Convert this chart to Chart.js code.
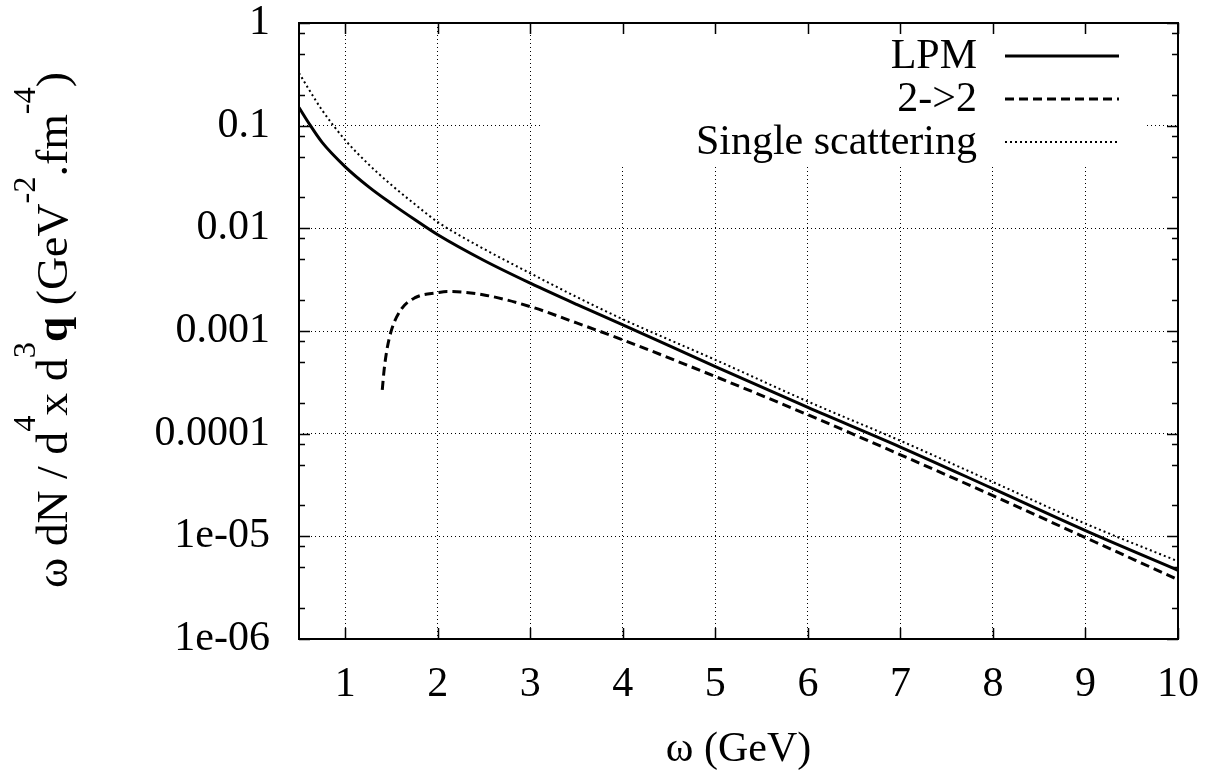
<!DOCTYPE html>
<html>
<head>
<meta charset="utf-8">
<script src="https://cdn.jsdelivr.net/npm/chart.js@4/dist/chart.umd.min.js"></script>
<style>
  html, body { margin: 0; padding: 0; background: #fff; }
</style>
</head>
<body>
<canvas id="chart" width="1211" height="772"></canvas>
<script>
// values (omega in GeV, rate on log scale)
const lpmOmega = [0.5, 0.6, 0.75, 1, 1.25, 1.5, 1.75, 2, 2.5, 3, 3.5, 4, 5, 6, 7, 8, 9, 10];
const lpmRate = [0.1503, 0.1079, 0.0687, 0.03974, 0.0255, 0.01740, 0.01218, 0.00866, 0.00486, 0.00292,
  0.001815, 0.001147, 4.50e-4, 1.80e-4, 7.41e-5, 2.91e-5, 1.136e-5, 4.67e-6];

const twoTwoOmega = [1.40, 1.42, 1.45, 1.5, 1.6, 1.75, 2, 2.1, 2.5, 3, 3.5, 4, 5, 6, 7, 8, 9, 10];
const twoTwoRate = [2.67e-4, 4.18e-4, 6.55e-4, 1.025e-3, 1.604e-3, 2.10e-3, 2.363e-3, 2.427e-3,
  2.245e-3, 1.727e-3, 1.199e-3, 8.19e-4, 3.60e-4, 1.527e-4, 6.23e-5, 2.49e-5, 9.71e-6, 3.79e-6];

const singleOmega = [0.5, 0.6, 0.75, 1, 1.25, 1.5, 1.75, 2, 2.5, 3, 3.5, 4, 5, 6, 7, 8, 9, 10];
const singleRate = [0.3263, 0.2306, 0.1415, 0.0723, 0.0422, 0.02637, 0.01723, 0.01151, 0.00629, 0.00365,
  0.002146, 0.001302, 5.24e-4, 2.056e-4, 8.53e-5, 3.38e-5, 1.329e-5, 5.71e-6];

const seriesNames = ['LPM', '2->2', 'Single scattering'];

const xTickValues = [1, 2, 3, 4, 5, 6, 7, 8, 9, 10];
const yTickValues = [1e-6, 1e-5, 1e-4, 1e-3, 1e-2, 0.1, 1];
const yTickLabels = ['1e-06', '1e-05', '0.0001', '0.001', '0.01', '0.1', '1'];
const yMinorValues = [2e-6, 5e-6, 8e-6, 2e-5, 5e-5, 8e-5, 2e-4, 5e-4, 8e-4,
  2e-3, 5e-3, 8e-3, 2e-2, 5e-2, 8e-2, 0.2, 0.5, 0.8];

const FONT = "'Liberation Serif', 'Times New Roman', serif";
Chart.defaults.font.family = FONT;
Chart.defaults.font.size = 42;
Chart.defaults.color = '#000';

function toPoints(xs, ys) {
  return xs.map((x, i) => ({ x: x, y: ys[i] }));
}

// stop chart.js from shrinking the plot for overhanging labels
function noPad(s) {
  s.paddingTop = 0; s.paddingBottom = 0; s.paddingLeft = 0; s.paddingRight = 0;
}

// gnuplot style frame: white key box, inward ticks, border, key
const framePlugin = {
  id: 'frame',
  beforeDatasetsDraw(chart) {
    const ctx = chart.ctx;
    ctx.save();
    ctx.fillStyle = '#fff';
    ctx.fillRect(542, 24, 603, 143);
    ctx.restore();
  },
  afterDatasetsDraw(chart) {
    const { ctx, chartArea: a, scales } = chart;
    const x = scales.x, y = scales.y;
    ctx.save();
    ctx.strokeStyle = '#000';
    ctx.lineWidth = 1.5;
    ctx.setLineDash([]);
    ctx.beginPath();
    xTickValues.forEach(v => {
      const px = Math.round(x.getPixelForValue(v)) + 0.5;
      ctx.moveTo(px, a.bottom); ctx.lineTo(px, a.bottom - 11);
      ctx.moveTo(px, a.top); ctx.lineTo(px, a.top + 11);
    });
    yTickValues.forEach(v => {
      const py = Math.round(y.getPixelForValue(v)) + 0.5;
      ctx.moveTo(a.left, py); ctx.lineTo(a.left + 11, py);
      ctx.moveTo(a.right, py); ctx.lineTo(a.right - 11, py);
    });
    yMinorValues.forEach(v => {
      const py = Math.round(y.getPixelForValue(v)) + 0.5;
      ctx.moveTo(a.left, py); ctx.lineTo(a.left + 6, py);
      ctx.moveTo(a.right, py); ctx.lineTo(a.right - 6, py);
    });
    ctx.stroke();
    ctx.lineWidth = 2;
    ctx.strokeRect(a.left, a.top, a.right - a.left, a.bottom - a.top);

    // key
    const rows = [56, 99, 142];
    ctx.font = '42px ' + FONT;
    ctx.textAlign = 'right';
    ctx.textBaseline = 'middle';
    chart.data.datasets.forEach((ds, i) => {
      ctx.fillStyle = '#000';
      ctx.fillText(ds.label, 977, rows[i] + 1);
      ctx.beginPath();
      ctx.lineWidth = ds.borderWidth;
      ctx.setLineDash(ds.borderDash || []);
      ctx.moveTo(1005, rows[i]);
      ctx.lineTo(1119, rows[i]);
      ctx.stroke();
    });
    ctx.restore();
  },
  afterDraw(chart) {
    // rotated y title with superscripts and bold q
    const ctx = chart.ctx;
    const parts = [
      { t: 'ω dN / d', f: '44px ' },
      { t: '4', f: '31px ', sup: true },
      { t: 'x d', f: '44px ' },
      { t: '3', f: '31px ', sup: true },
      { t: 'q', f: 'bold 44px ' },
      { t: ' (GeV', f: '44px ' },
      { t: '-2', f: '31px ', sup: true },
      { t: '.fm', f: '44px ' },
      { t: '-4', f: '31px ', sup: true },
      { t: ')', f: '44px ' }
    ];
    ctx.save();
    let total = 0;
    parts.forEach(p => { ctx.font = p.f + FONT; p.w = ctx.measureText(p.t).width; total += p.w; });
    const span = 516;
    ctx.translate(67, 330);
    ctx.rotate(-Math.PI / 2);
    ctx.scale(span / total, 1);
    ctx.fillStyle = '#000';
    ctx.textAlign = 'left';
    ctx.textBaseline = 'alphabetic';
    let cx = -total / 2;
    parts.forEach(p => {
      ctx.font = p.f + FONT;
      ctx.fillText(p.t, cx, p.sup ? -32 : 0);
      cx += p.w;
    });
    ctx.restore();
  }
};

new Chart(document.getElementById('chart'), {
  type: 'line',
  data: {
    datasets: [
      {
        label: seriesNames[0],
        data: toPoints(lpmOmega, lpmRate),
        borderColor: '#000',
        borderWidth: 3,
        pointRadius: 0,
        cubicInterpolationMode: 'monotone'
      },
      {
        label: seriesNames[1],
        data: toPoints(twoTwoOmega, twoTwoRate),
        borderColor: '#000',
        borderWidth: 3,
        borderDash: [9, 5],
        pointRadius: 0,
        cubicInterpolationMode: 'monotone'
      },
      {
        label: seriesNames[2],
        data: toPoints(singleOmega, singleRate),
        borderColor: '#000',
        borderWidth: 2,
        borderDash: [2, 3],
        pointRadius: 0,
        cubicInterpolationMode: 'monotone'
      }
    ]
  },
  options: {
    responsive: false,
    animation: false,
    devicePixelRatio: 1,
    layout: { autoPadding: false, padding: { left: 0, right: 33, top: 23, bottom: 0 } },
    plugins: {
      legend: { display: false },
      tooltip: { enabled: false }
    },
    scales: {
      x: {
        type: 'linear',
        min: 0.5,
        max: 10,
        afterBuildTicks: s => { s.ticks = xTickValues.map(v => ({ value: v })); },
        afterFit: s => { s.height = 133; noPad(s); },
        ticks: { padding: 21, maxRotation: 0, autoSkip: false, callback: v => String(v) },
        grid: { color: '#000', lineWidth: 1, drawTicks: false },
        border: { display: false, dash: [1, 3] },
        title: { display: true, text: 'ω (GeV)', font: { size: 42, lineHeight: 1 }, padding: { top: 0, bottom: 1 } }
      },
      y: {
        type: 'logarithmic',
        min: 1e-6,
        max: 1,
        afterBuildTicks: s => { s.ticks = yTickValues.map(v => ({ value: v })); },
        afterFit: s => { s.width = 299; noPad(s); },
        ticks: {
          padding: 29,
          autoSkip: false,
          callback: (v) => yTickLabels[yTickValues.indexOf(v)]
        },
        grid: { color: '#000', lineWidth: 1, drawTicks: false },
        border: { display: false, dash: [1, 3] }
      }
    }
  },
  plugins: [framePlugin]
});
</script>
</body>
</html>
